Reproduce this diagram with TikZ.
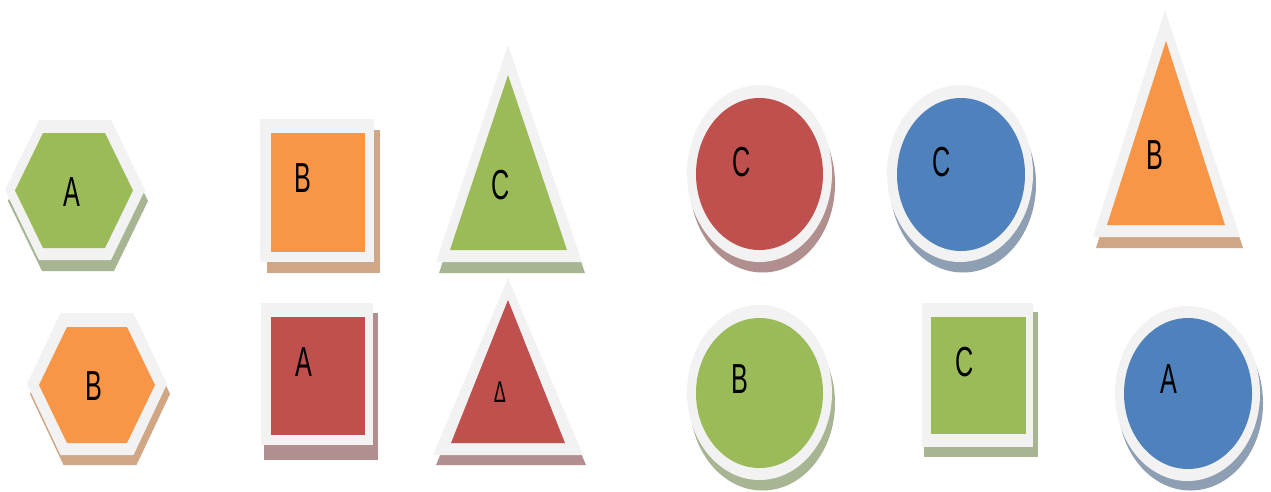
\documentclass[tikz,border=0pt]{standalone}
\usepackage{fontspec}
\newfontfamily\lblfont[FakeStretch=0.6]{Liberation Sans}
\definecolor{frm}{HTML}{F2F2F2}
\definecolor{cgreen}{HTML}{9BBB59}
\definecolor{corange}{HTML}{F79646}
\definecolor{cred}{HTML}{C0504D}
\definecolor{cblue}{HTML}{4F81BD}
\definecolor{sgreen}{HTML}{A7B592}
\definecolor{sorange}{HTML}{D0A684}
\definecolor{sred}{HTML}{B28F8F}
\definecolor{sblue}{HTML}{8E9EB3}
\begin{document}
\begin{tikzpicture}[x=1pt,y=-1pt,
  lbl/.style={font=\lblfont\fontsize{42}{42}\selectfont, inner sep=0pt, text=black},
  smalllbl/.style={font=\lblfont\fontsize{30}{30}\selectfont, inner sep=0pt, text=black},
  framefill/.style={fill=frm}]
\useasboundingbox (0,0) rectangle (1271,491);
\fill[white] (0,0) rectangle (1271,491);

% ---- Hexagon A (green)
\fill[sgreen,shift={(3,11)}] (5,190)--(39,120)--(111,120)--(145,190)--(111,260)--(39,260)--cycle;
\fill[framefill] (5,190)--(39,120)--(111,120)--(145,190)--(111,260)--(39,260)--cycle;
\fill[cgreen] (15,190.5)--(43,133)--(105,133)--(133,190.5)--(105,248)--(43,248)--cycle;
\node[lbl] (hexA) at (72,192) {A};

% ---- Hexagon B (orange)
\fill[sorange,shift={(3,10)}] (27,384)--(60.5,313)--(133.5,313)--(167,384)--(133.5,455)--(60.5,455)--cycle;
\fill[framefill] (27,384)--(60.5,313)--(133.5,313)--(167,384)--(133.5,455)--(60.5,455)--cycle;
\fill[corange] (39,385)--(67,327)--(127,327)--(155,385)--(127,443)--(67,443)--cycle;
\node[lbl] (hexB) at (94,386) {B};

% ---- Square B (orange)
\fill[sorange] (267,130) rectangle (380,273);
\fill[framefill] (260,119) rectangle (374,262);
\fill[corange] (271,133) rectangle (365,252);
\node[lbl] (sqB) at (303,178) {B};

% ---- Square A (red)
\fill[sred] (264,313) rectangle (378,460);
\fill[framefill] (261,303) rectangle (373,445);
\fill[cred] (271,317) rectangle (365,435);
\node[lbl] (sqA) at (304,362) {A};

% ---- Triangle C (green)
\fill[sgreen,shift={(3,11)}] (508,45)--(436,262)--(582,262)--cycle;
\fill[framefill] (508,45)--(436,262)--(582,262)--cycle;
\fill[cgreen] (508,75)--(450,250)--(567,250)--cycle;
\node[lbl] (triC) at (501,185) {C};

% ---- Triangle Delta (red)
\fill[sred,shift={(3,10)}] (508,278)--(433,455)--(583,455)--cycle;
\fill[framefill] (508,278)--(433,455)--(583,455)--cycle;
\fill[cred] (508,300)--(451,443)--(565,443)--cycle;
\node[smalllbl] (triD) at (500,392) {Δ};

% ---- Circle C (red)
\fill[sred] (762.5,184) ellipse [x radius=72.5pt, y radius=88.5pt];
\fill[framefill] (759.5,173.5) ellipse [x radius=72.5pt, y radius=88.5pt];
\fill[cred] (759.5,174) ellipse [x radius=63.5pt, y radius=76pt];
\node[lbl] (cirC1) at (742,162) {C};

% ---- Circle C (blue)
\fill[sblue] (963,184) ellipse [x radius=73pt, y radius=88.5pt];
\fill[framefill] (960,173.5) ellipse [x radius=73pt, y radius=88.5pt];
\fill[cblue] (961,174.5) ellipse [x radius=64pt, y radius=76.5pt];
\node[lbl] (cirC2) at (942,162) {C};

% ---- Triangle B (orange)
\fill[sorange,shift={(3,11)}] (1165,10)--(1093,237)--(1240,237)--cycle;
\fill[framefill] (1165,10)--(1093,237)--(1240,237)--cycle;
\fill[corange] (1166,41)--(1107,225)--(1225,225)--cycle;
\node[lbl] (triB) at (1155,155) {B};

% ---- Circle B (green)
\fill[sgreen] (762.5,403) ellipse [x radius=72.5pt, y radius=87.5pt];
\fill[framefill] (759.5,392.5) ellipse [x radius=72.5pt, y radius=87.5pt];
\fill[cgreen] (759.5,393) ellipse [x radius=63.5pt, y radius=75pt];
\node[lbl] (cirB) at (740,379) {B};

% ---- Square C (green)
\fill[sgreen] (924,312) rectangle (1038,457);
\fill[framefill] (922,303) rectangle (1033,447);
\fill[cgreen] (931,317) rectangle (1026,434);
\node[lbl] (sqC) at (965,362) {C};

% ---- Circle A (blue)
\fill[sblue] (1190.5,403) ellipse [x radius=72.5pt, y radius=87.5pt];
\fill[framefill] (1187.5,393.5) ellipse [x radius=72.5pt, y radius=87.5pt];
\fill[cblue] (1188,393.5) ellipse [x radius=64pt, y radius=75.5pt];
\node[lbl] (cirA) at (1169,379) {A};
\end{tikzpicture}
\end{document}
